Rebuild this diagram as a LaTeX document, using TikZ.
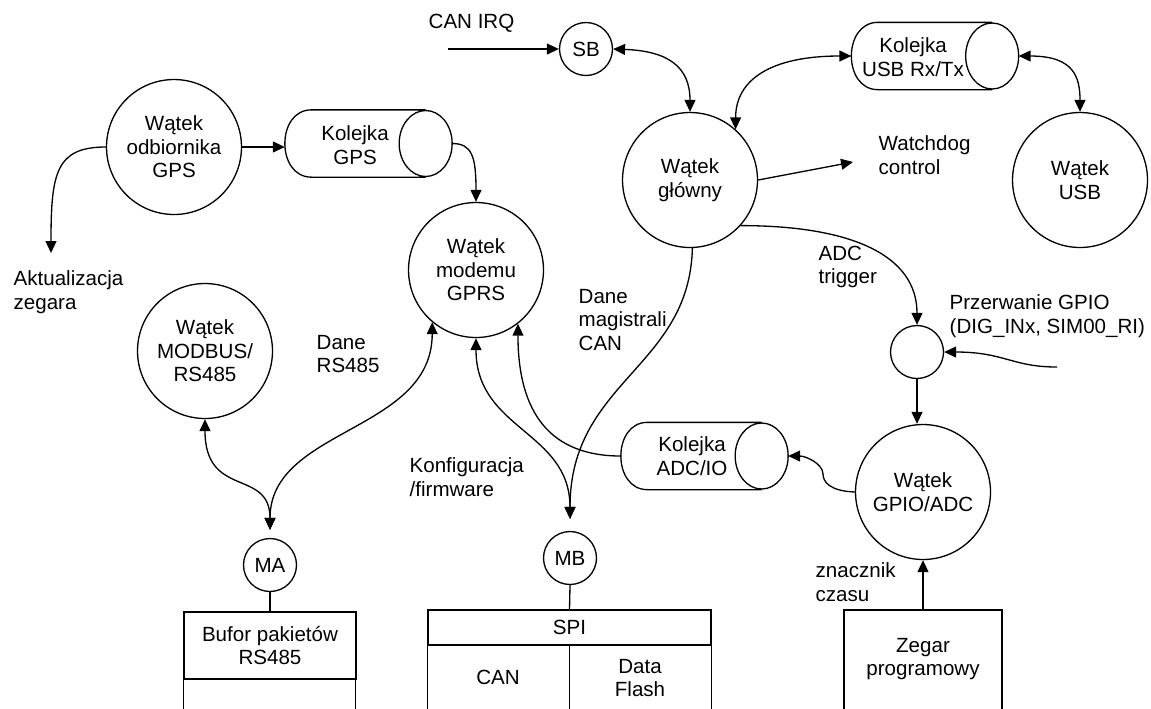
\documentclass[tikz,border=0pt]{standalone}
\usepackage{fontspec}
\setmainfont{Liberation Sans}
\usetikzlibrary{arrows.meta,calc}
\newcommand\drawqueue[1]{%
  \draw ([xshift=0.53cm]#1.north west) -- ([xshift=-0.53cm]#1.north east)
        ([xshift=0.53cm]#1.south west) -- ([xshift=-0.53cm]#1.south east)
        ([xshift=0.53cm]#1.north west) .. controls ([xshift=-0.177cm]#1.north west) and ([xshift=-0.177cm]#1.south west) .. ([xshift=0.53cm]#1.south west)
        ([xshift=-0.53cm]#1.east) ellipse [x radius=0.53cm, y radius=0.66cm];}
\begin{document}
\begin{tikzpicture}[x=0.02cm,y=-0.02cm, line width=0.75pt,
  font=\fontsize{11.7}{13.4}\selectfont,
  thread/.style={circle,draw,minimum size=2.7cm,inner sep=0pt,align=center},
  port/.style={circle,draw,minimum size=1.06cm,inner sep=0pt},
  qshape/.style={rectangle,draw=none,minimum width=3.32cm,minimum height=1.32cm,inner sep=0pt},
  lbl/.style={align=center,inner sep=0pt},
  note/.style={align=left,anchor=west,inner sep=0pt},
  arr/.style={-{Triangle[length=6.8pt,width=6.2pt]}},
  darr/.style={{Triangle[length=6.8pt,width=6.2pt]}-{Triangle[length=6.8pt,width=6.2pt]}},
]
\useasboundingbox (0,0) rectangle (1151,708);
\clip (0,0) rectangle (1151,708);

% threads
\node[thread] (gps) at (174,147) {Wątek\\odbiornika\\GPS};
\node[thread] (modem) at (476,270) {Wątek\\modemu\\GPRS};
\node[thread] (glowny) at (690,180) {Wątek\\główny};
\node[thread] (usb) at (1080,180) {Wątek\\USB};
\node[thread] (modbus) at (205,351) {Wątek\\MODBUS/\\RS485};
\node[thread] (gpioadc) at (923,492) {Wątek\\GPIO/ADC};

% small circles
\node[port] (sb) at (586,49) {SB};
\node[port] (irq) at (917,352) {};
\node[port] (ma) at (270,565) {MA};
\node[port] (mb) at (570,558) {MB};

% queues
\node[qshape] (kgps) at (368.5,143.5) {};
\node[qshape] (kusb) at (935,56) {};
\node[qshape] (kadc) at (704.5,456) {};
\drawqueue{kgps}
\drawqueue{kusb}
\drawqueue{kadc}
\node[lbl] (kgpst) at (355,145) {Kolejka\\GPS};
\node[lbl] (kusbt) at (913,57) {Kolejka\\USB Rx/Tx};
\node[lbl] (kadct) at (692,456) {Kolejka\\ADC/IO};

% boxes
\node[draw, minimum width=3.44cm, minimum height=1.34cm, inner sep=0pt, align=center] (bufor) at (270,645.5) {Bufor pakietów\\RS485};
\draw (bufor.south west) rectangle ++(172,60);
\node[draw, minimum width=5.66cm, minimum height=0.7cm, inner sep=0pt] (spi) at (569.5,627.5) {SPI};
\draw (spi.south west) -- ++(0,80) (spi.south) -- ++(0,80) (spi.south east) -- ++(0,80);
\node[lbl] (can) at (498,677) {CAN};
\node[lbl] (df) at (640,678) {Data\\Flash};
\node[draw, minimum width=3.16cm, minimum height=2.6cm, inner sep=0pt] (zegar) at (923,675) {};
\node[lbl] (zegart) at (923,659) {Zegar\\programowy};

% notes
\node[note] (akt) at (13,292) {Aktualizacja\\zegara};
\coordinate (aktin) at (51,253);
\node[note] (canirq) at (428,23) {CAN IRQ};
\coordinate (canin) at (448,49);
\node[note] (wd) at (878,155) {Watchdog\\control};
\coordinate (wdin) at (853,162);
\node[note] (adctr) at (818,267) {ADC\\trigger};
\node[note] (przerw) at (949,316) {Przerwanie GPIO\\(DIG\_INx, SIM00\_RI)};
\coordinate (gpioin) at (1057,367);
\node[note] (danecan) at (578,320) {Dane\\magistrali\\CAN};
\node[note] (daners) at (316,354) {Dane\\RS485};
\node[note] (konf) at (409,477) {Konfiguracja\\/firmware};
\node[note] (znacz) at (815,582) {znacznik\\czasu};

% connectors
\draw[arr] (gps.east) -- (gps.east -| kgps.west);
\draw[arr] (gps.west) .. controls +(-50,0) and +(0,-80) .. (aktin);
\draw[arr] (kgps.east) .. controls +(20,0) and +(0,-45) .. (modem.north);
\draw[arr] (canin) -- (sb.west);
\draw[darr] (sb.east) .. controls +(55,2) and +(0,-45) .. (glowny.north);
\draw[darr] (kusb.west) .. controls +(-80,0) and +(0,-50) .. (glowny.48);
\draw[darr] (kusb.east) .. controls +(55,0) and +(0,-35) .. (usb.north);
\draw[arr] (glowny.east) -- (wdin);
\draw[arr] (glowny.-42) .. controls +(110,0) and +(0,-70) .. (irq.north);
\draw[arr] (gpioin) .. controls +(-45,0) and +(60,0) .. (irq.east);
\draw[arr] (irq.south) -- (irq.south |- gpioadc.north);
\draw[arr] (gpioadc.west) .. controls +(-25,-1) and +(0,8) .. (823,474) .. controls +(0,-10) and +(18,0) .. (kadc.east);
\draw[arr] (kadc.west) .. controls +(-70,0) and +(0,90) .. (modem.-52);
\draw[darr, shorten >=0.24cm] (modem.south) .. controls +(0,92) and +(0,-100) .. (mb.north);
\draw[arr, shorten >=0.24cm] (glowny.-88) .. controls +(-3,120) and +(0,-150) .. (mb.north);
\draw[darr, shorten >=0.16cm] (modem.-130) .. controls +(0,110) and +(0,-110) .. (ma.north);
\draw[darr, shorten >=0.16cm] (modbus.south) .. controls +(0,80) and +(0,-70) .. (ma.north);
\draw (ma.south) -- (bufor.north);
\draw (mb.south) -- (spi.north);
\draw[arr] (zegar.north) -- (gpioadc.south);
\end{tikzpicture}
\end{document}
